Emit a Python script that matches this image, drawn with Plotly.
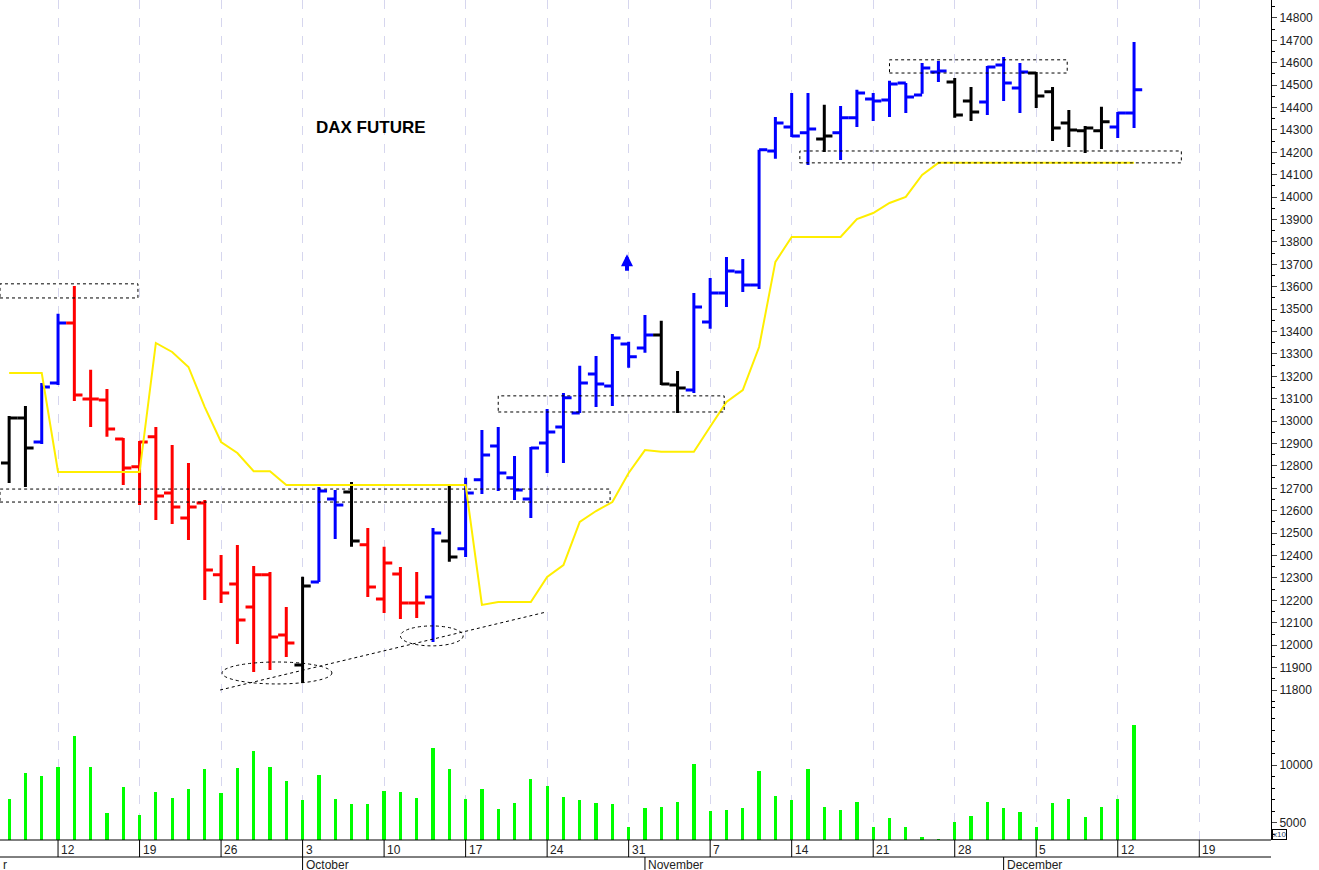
import numpy as np
import pandas as pd
import plotly.graph_objects as go
from plotly.subplots import make_subplots

# trading days, Sep 7 2022 .. Dec 13 2022 (index 0 = Mon Sep 12)
dates = pd.bdate_range('2022-09-07', '2022-12-13')
day_idx = np.arange(len(dates)) - 3

opens = [12813, 13014, 12907, 13170, 13438, 13099, 13095, 12920, 12796, 12930,
         12679, 12568, 12635, 12314, 12273, 12171, 12314, 12046, 11912, 12282,
         12653, 12684, 12448, 12206, 12318, 12188, 12215, 12465, 12430, 12738,
         12889, 12747, 12653, 12903, 12974, 13037, 13211, 13157, 13345, 13327,
         13385, 13162, 13139, 13443, 13572, 13666, 13608, 14206, 14313, 14287,
         14260, 14287, 14354, 14438, 14434, 14510, 14456, 14559, 14514, 14429,
         14425, 14590, 14487, 14554, 14470, 14331, 14296, 14296, 14313, 14376]
highs = [13023, 13068, 13170, 13479, 13603, 13229, 13144, 12925, 12912, 12974,
         12894, 12813, 12648, 12403, 12447, 12354, 12327, 12171, 12305, 12706,
         12693, 12729, 12523, 12439, 12349, 12327, 12523, 12711, 12747, 12961,
         12974, 12845, 12885, 13054, 13126, 13247, 13291, 13389, 13354, 13474,
         13448, 13224, 13572, 13639, 13733, 13724, 14211, 14358, 14465, 14465,
         14412, 14407, 14479, 14465, 14519, 14510, 14599, 14608, 14532, 14492,
         14585, 14626, 14599, 14559, 14492, 14389, 14318, 14403, 14380, 14693]
lows = [12724, 12706, 12898, 13162, 13090, 12974, 12930, 12715, 12626, 12559,
        12541, 12470, 12202, 12188, 12005, 11880, 11889, 11947, 11831, 12282,
        12474, 12439, 12215, 12144, 12117, 12121, 12014, 12372, 12394, 12675,
        12688, 12648, 12568, 12769, 12813, 13037, 13063, 13068, 13238, 13305,
        13162, 13037, 13126, 13412, 13510, 13577, 13590, 14171, 14269, 14144,
        14202, 14166, 14313, 14340, 14358, 14376, 14461, 14514, 14354, 14340,
        14367, 14429, 14376, 14398, 14251, 14224, 14197, 14215, 14264, 14309]
closes = [13014, 12880, 13153, 13438, 13117, 13099, 12965, 12791, 12907, 12666,
          12617, 12617, 12336, 12233, 12113, 12314, 12037, 12010, 12264, 12688,
          12626, 12465, 12260, 12367, 12188, 12188, 12501, 12394, 12679, 12849,
          12769, 12693, 12880, 12952, 13104, 13170, 13166, 13371, 13287, 13385,
          13166, 13148, 13510, 13572, 13670, 13608, 14211, 14331, 14273, 14304,
          14273, 14354, 14465, 14429, 14505, 14447, 14576, 14563, 14367, 14380,
          14581, 14510, 14559, 14452, 14309, 14300, 14309, 14336, 14376, 14479]
bar_colors = (['k', 'k', 'b', 'b'] + ['r'] * 14 + ['k', 'b', 'b', 'k'] + ['r'] * 4
              + ['b', 'k'] + ['b'] * 12 + ['k', 'k'] + ['b'] * 8 + ['k'] + ['b'] * 7
              + ['k', 'k'] + ['b'] * 3 + ['k'] * 5 + ['b', 'b'])

stop_line = [13215, 13215, 13215, 12773, 12773, 12773, 12773, 12773, 12773, 13349,
             13309, 13242, 13063, 12907, 12858, 12777, 12777, 12715, 12715, 12715,
             12715, 12715, 12715, 12715, 12715, 12715, 12715, 12715, 12715, 12180,
             12193, 12193, 12193, 12305, 12358, 12550, 12599, 12639, 12769, 12871,
             12863, 12863, 12863, 12975, 13086, 13139, 13331, 13711, 13822, 13822,
             13822, 13822, 13902, 13929, 13974, 14001, 14099, 14153, 14153, 14153,
             14153, 14153, 14153, 14153, 14153, 14153, 14153, 14153, 14153, 14153]

volume = [7040, 9282, 9052, 9828, 12501, 9799, 5891, 8075, 5690, 7673,
          7155, 7931, 9656, 7558, 9742, 11208, 9828, 8621, 6983, 9110,
          7040, 6609, 6609, 7759, 7701, 7155, 11437, 9656, 7069, 7931,
          6178, 6695, 8765, 8190, 7241, 6983, 6695, 6609, 4684, 6293,
          6408, 6782, 10087, 6034, 6121, 6264, 9512, 7328, 6983, 9656,
          6408, 6121, 6782, 4684, 5431, 4684, 3764, 3620, 5086, 5603,
          6782, 6264, 5919, 4626, 6695, 7069, 5546, 6351, 7040, 13421]

# axis labels
week_days = [-5 + 5 * k for k in range(17)]  # Mondays
week_labels = ['', '12', '19', '26', '3', '10', '17', '24', '31', '7', '14', '21',
               '28', '5', '12', '19', '']
month_days = [-3.56, 15, 36, 58]
month_labels = ['r', 'October', 'November', 'December']

fig = make_subplots(rows=2, cols=1, shared_xaxes=True, vertical_spacing=0,
                    row_heights=[0.8393, 0.1607])

color_map = {'b': '#0000ff', 'r': '#ff0000', 'k': '#000000'}
for c, col in color_map.items():
    sel = [i for i, bc in enumerate(bar_colors) if bc == c]
    fig.add_trace(go.Ohlc(
        x=[day_idx[i] for i in sel],
        open=[opens[i] for i in sel], high=[highs[i] for i in sel],
        low=[lows[i] for i in sel], close=[closes[i] for i in sel],
        increasing=dict(line=dict(color=col, width=3)),
        decreasing=dict(line=dict(color=col, width=3)),
        tickwidth=0.5, showlegend=False, hoverinfo='skip',
    ), row=1, col=1)

fig.add_trace(go.Scatter(x=day_idx, y=stop_line, mode='lines',
                         line=dict(color='#ffee00', width=2), showlegend=False),
              row=1, col=1)

fig.add_trace(go.Bar(x=day_idx, y=volume, width=0.2, marker_color='#00ff00',
                     marker_line_width=0, showlegend=False, base=0),
              row=2, col=1)

grid = dict(showgrid=True, gridcolor='#d6d6ee', griddash='dash', gridwidth=1,
            tickvals=week_days, showticklabels=False, ticks='',
            range=[-3.56, 74.4], zeroline=False, automargin=False)
fig.update_xaxes(**grid)
fig.update_xaxes(rangeslider_visible=False, row=1, col=1)

axfont = dict(family='Liberation Sans, Arial', size=12, color='#222')
fig.update_yaxes(side='right', range=[11733, 14880], dtick=100, tick0=11800,
                 tickformat='d', automargin=False,
                 ticks='outside', ticklen=5, showline=True, linecolor='black',
                 linewidth=1, showgrid=False, zeroline=False, tickfont=axfont,
                 minor=dict(dtick=50, ticks='outside', ticklen=3, tickcolor='black'),
                 row=1, col=1)
fig.update_yaxes(side='right', range=[3534, 15172], tickvals=[5000, 10000],
                 tickformat='d', automargin=False,
                 ticks='outside', ticklen=5, showline=True, linecolor='black',
                 showgrid=False, zeroline=False, tickfont=axfont,
                 minor=dict(dtick=1000, ticks='outside', ticklen=3, tickcolor='black'),
                 row=2, col=1)

shapes = []
dash = dict(color='black', width=1, dash='dot')
for x0, x1, y0, y1 in [(-3.56, 4.9, 13550, 13613), (-3.56, 33.86, 12639, 12697),
                       (27.0, 40.86, 13041, 13113), (51.0, 61.9, 14554, 14613),
                       (45.5, 68.9, 14153, 14206)]:
    shapes.append(dict(type='rect', xref='x', yref='y', x0=x0, x1=x1, y0=y0, y1=y1,
                       line=dash))
for x0, x1, y0, y1 in [(10.06, 16.8, 11827, 11925), (21.0, 24.85, 11997, 12086)]:
    shapes.append(dict(type='circle', xref='x', yref='y', x0=x0, x1=x1, y0=y0, y1=y1,
                       line=dash))
shapes.append(dict(type='line', xref='x', yref='y', x0=9.94, y0=11800, x1=29.94,
                   y1=12148, line=dash))

# bottom date axis: separators and rows
py = lambda px: -px / 840
shapes.append(dict(type='line', xref='paper', yref='paper', x0=0, x1=1, y0=0, y1=0,
                   line=dict(color='black', width=1)))
shapes.append(dict(type='line', xref='paper', yref='paper', x0=0, x1=1,
                   y0=py(17), y1=py(17), line=dict(color='black', width=1)))
for d in week_days[1:-1]:
    shapes.append(dict(type='line', xref='x', yref='paper', x0=d, x1=d, y0=0,
                       y1=py(17), line=dict(color='black', width=1)))
for d in month_days[1:]:
    shapes.append(dict(type='line', xref='x', yref='paper', x0=d, x1=d, y0=py(17),
                       y1=py(32), line=dict(color='black', width=1)))

annotations = []
for d, t in zip(week_days, week_labels):
    if t:
        annotations.append(dict(x=d, y=py(1), xref='x', yref='paper', text=t,
                                showarrow=False, xanchor='left', yanchor='top',
                                xshift=1, font=axfont))
for d, t in zip(month_days, month_labels):
    annotations.append(dict(x=d, y=py(16), xref='x', yref='paper', text=t,
                            showarrow=False, xanchor='left', yanchor='top',
                            xshift=1, font=dict(family='Liberation Sans, Arial',
                                                size=12, color='#222')))
annotations.append(dict(x=19.2, y=14309, xref='x', yref='y', text='<b>DAX FUTURE</b>',
                        showarrow=False, font=dict(family='Liberation Sans, Arial',
                                                   size=17, color='black')))
annotations.append(dict(x=34.9, y=13745, xref='x', yref='y', ax=0, ay=18,
                        text='', showarrow=True, arrowhead=2, arrowsize=0.6,
                        arrowwidth=4, arrowcolor='#0000ff'))
annotations.append(dict(x=1.0, y=0.0, xref='paper', yref='paper', text='x10',
                        showarrow=False, xanchor='left', yanchor='bottom', xshift=1,
                        bordercolor='black', borderwidth=1, borderpad=0,
                        font=dict(family='Liberation Sans, Arial', size=8)))

fig.update_layout(width=1319, height=870, margin=dict(l=0, r=48, t=0, b=30),
                  plot_bgcolor='white', paper_bgcolor='white', shapes=shapes,
                  annotations=annotations, showlegend=False, bargap=0)

fig.write_html("out.html", config={'displayModeBar': False},
               post_script="document.body.style.margin='0';")
